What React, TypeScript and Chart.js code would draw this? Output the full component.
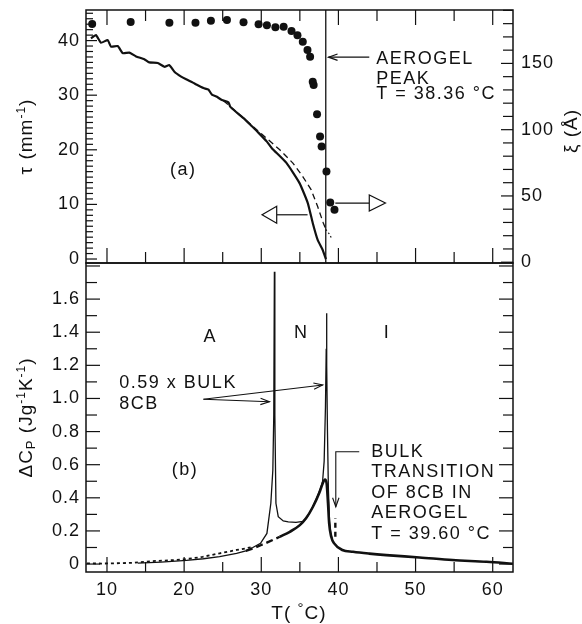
import React, { useEffect, useRef } from 'react';
import { Chart, registerables } from 'chart.js';

Chart.register(...registerables);

const FONT = '"Liberation Sans", Arial, Helvetica, sans-serif';
const INK = '#111';

// ---------- axis ranges ----------
const T_MIN = 7.28;
const T_MAX = 62.63;
const TAU_MIN = -0.73;
const TAU_MAX = 45.6;
const XI_MIN = -0.6;
const XI_MAX = 190.3;
const CP_MIN = -0.048;
const CP_MAX = 1.818;

// ---------- tick labels ----------
const xTickLabels = [10, 20, 30, 40, 50, 60];
const tauTickLabels = [0, 10, 20, 30, 40];
const xiTickLabels = [0, 50, 100, 150];
const cpTickLabels = [0, 0.2, 0.4, 0.6, 0.8, 1.0, 1.2, 1.4, 1.6];

// ---------- tick mark positions ----------
const xMarks = [10, 15, 20, 25, 30, 35, 40, 45, 50, 55, 60];
const tauMarks = Array.from({ length: 46 }, (_, i) => i);
const xiMarks = Array.from({ length: 20 }, (_, i) => i * 10);
const cpMarks = Array.from({ length: 19 }, (_, i) => i / 10);

// ---------- panel (a): turbidity tau (mm^-1) ----------
const tauT = [7.92, 8.57, 9.22, 10.09, 10.52, 11.39, 12.04, 12.9, 13.77, 14.84, 15.49, 16.58, 17.44, 18.09, 18.74, 19.61, 20.26, 21.13, 21.65, 22.51, 23.16, 23.6, 24.25, 24.9, 25.75, 25.97, 26.84, 27.7, 28.79, 29.65, 30.73, 31.37, 33.26, 34.96, 36.03, 36.67, 37.31, 37.95, 38.2, 38.38];
const tauV = [40.4, 41.0, 39.6, 40.1, 38.9, 39.0, 37.7, 37.8, 37.1, 36.6, 36.0, 35.9, 35.2, 35.5, 34.3, 33.4, 32.9, 32.3, 31.9, 31.3, 31.0, 30.1, 29.7, 29.1, 28.7, 27.9, 26.8, 25.8, 24.3, 23.1, 21.5, 20.3, 17.6, 13.9, 10.25, 6.6, 3.5, 1.7, 0.7, 0.0];

// fit (dashed) and its extrapolation (dotted)
const tauFitT = [25.1, 29.8, 32.4, 34.1, 35.38, 36.46, 37.31, 38.04, 38.38];
const tauFitV = [29.0, 23.2, 20.0, 17.56, 15.1, 12.7, 9.6, 6.6, 5.4];
const tauExtT = [38.38, 38.8, 39.2];
const tauExtV = [5.4, 4.6, 3.6];

// correlation length xi (Angstrom), filled circles
const xiT = [8.08, 13.07, 18.09, 21.47, 23.47, 25.55, 27.7, 29.65, 30.73, 31.83, 32.9, 33.92, 34.69, 35.38, 35.99, 36.33, 36.67, 36.79, 37.23, 37.62, 37.82, 38.45, 38.94, 39.49];
const xiV = [179.7, 181.2, 180.7, 180.7, 182.2, 182.7, 181.0, 179.5, 178.7, 177.2, 177.7, 174.5, 171.2, 166.4, 160.1, 155.1, 136.2, 133.8, 111.7, 94.8, 87.3, 68.4, 45.1, 39.6];

const aerogelPeakT = 38.36;

// ---------- panel (b): excess heat capacity ----------
// 0.59 x bulk 8CB (thin line)
const bulkT = [14.0, 17.0, 20.3, 22.5, 24.6, 26.8, 28.0, 28.9, 29.9, 30.73, 31.24, 31.5, 31.62, 31.7, 31.76, 31.9, 32.2, 32.85, 33.5, 34.5, 35.4, 35.9, 36.5, 37.2, 37.7, 37.95, 38.15, 38.32, 38.42, 38.46, 38.5, 38.58, 38.7, 38.85, 39.0, 39.2];
const bulkCp = [0.006, 0.012, 0.022, 0.032, 0.045, 0.064, 0.08, 0.1, 0.125, 0.185, 0.367, 0.568, 0.9, 1.765, 0.9, 0.367, 0.286, 0.26, 0.255, 0.252, 0.258, 0.28, 0.33, 0.4, 0.46, 0.5, 0.62, 0.95, 1.3, 1.514, 1.2, 0.8, 0.45, 0.26, 0.19, 0.15];

// 8CB in aerogel (thick line)
const aeroT = [32.4, 33.7, 35.0, 35.8, 36.7, 37.5, 37.96, 38.26, 38.47, 38.65, 38.8, 39.07, 39.45, 40.5, 41.9, 44.0, 46.2, 50.5, 54.8, 59.2, 62.6];
const aeroCp = [0.165, 0.195, 0.235, 0.276, 0.346, 0.427, 0.487, 0.511, 0.487, 0.367, 0.246, 0.165, 0.125, 0.085, 0.074, 0.063, 0.054, 0.04, 0.024, 0.014, 0.002];

// 8CB in aerogel, lower-T part (heavy dashes)
const aeroDashT = [28.0, 29.0, 30.0, 31.0, 32.4];
const aeroDashCp = [0.08, 0.095, 0.115, 0.135, 0.165];

// 8CB in aerogel, sparse data points at low T (dotted)
const aeroDotT = [7.4, 9.5, 11.6, 13.5, 15.9, 18.0, 19.8, 21.0, 22.4, 23.5, 24.6, 25.7, 26.8, 27.9, 28.9];
const aeroDotCp = [0.004, 0.003, 0.005, 0.008, 0.018, 0.022, 0.028, 0.034, 0.044, 0.054, 0.065, 0.074, 0.085, 0.094, 0.104];

// bulk transition marker at 39.60 C
const bulkTransT = [39.6, 39.6];
const bulkTransCp = [0.165, 0.276];

// ---------- helpers ----------
type Pt = { x: number; y: number };
const pts = (xs: number[], ys: number[]): Pt[] => xs.map((x, i) => ({ x, y: ys[i] }));

function seg(ctx: CanvasRenderingContext2D, x1: number, y1: number, x2: number, y2: number) {
  ctx.beginPath();
  ctx.moveTo(x1, y1);
  ctx.lineTo(x2, y2);
  ctx.stroke();
}

function text(ctx: CanvasRenderingContext2D, s: string, x: number, y: number, align: CanvasTextAlign = 'left', size = 18) {
  ctx.font = `${size}px ${FONT}`;
  ctx.textAlign = align;
  ctx.textBaseline = 'middle';
  ctx.fillText(s, x, y);
}

type Part = { t: string; size: number; dy: number };
function rich(ctx: CanvasRenderingContext2D, parts: Part[], x: number, y: number, rot = 0) {
  ctx.save();
  ctx.translate(x, y);
  ctx.rotate(rot);
  ctx.textAlign = 'left';
  ctx.textBaseline = 'alphabetic';
  let total = 0;
  const widths = parts.map((p) => {
    ctx.font = `${p.size}px ${FONT}`;
    const w = ctx.measureText(p.t).width;
    total += w;
    return w;
  });
  let cx = -total / 2;
  parts.forEach((p, i) => {
    ctx.font = `${p.size}px ${FONT}`;
    ctx.fillText(p.t, cx, p.dy);
    cx += widths[i];
  });
  ctx.restore();
}

function vHead(ctx: CanvasRenderingContext2D, tx: number, ty: number, fromX: number, fromY: number, len = 9, half = 3.2) {
  const ang = Math.atan2(ty - fromY, tx - fromX);
  const bx = tx - len * Math.cos(ang);
  const by = ty - len * Math.sin(ang);
  const nx = -Math.sin(ang) * half;
  const ny = Math.cos(ang) * half;
  ctx.beginPath();
  ctx.moveTo(bx + nx, by + ny);
  ctx.lineTo(tx, ty);
  ctx.lineTo(bx - nx, by - ny);
  ctx.stroke();
}

function openTri(ctx: CanvasRenderingContext2D, tipX: number, baseX: number, y: number, half: number) {
  ctx.beginPath();
  ctx.moveTo(tipX, y);
  ctx.lineTo(baseX, y - half);
  ctx.lineTo(baseX, y + half);
  ctx.closePath();
  ctx.fillStyle = '#fff';
  ctx.fill();
  ctx.stroke();
  ctx.fillStyle = INK;
}

const tickFont = { family: FONT, size: 18 };

function fixY(width: number) {
  return (s: any) => {
    s.width = width;
    s.paddingTop = 0;
    s.paddingBottom = 0;
  };
}
function fixX(height: number) {
  return (s: any) => {
    s.height = height;
    s.paddingLeft = 0;
    s.paddingRight = 0;
  };
}

// ---------- panel (a) ----------
const topDecor = {
  id: 'topDecor',
  beforeDraw(chart: any) {
    chart.ctx.letterSpacing = '1px';
  },
  afterDraw(chart: any) {
    const { ctx, chartArea: a, scales } = chart;
    const x = scales.x;
    const y = scales.y;
    const y2 = scales.y2;
    const X = (v: number) => x.getPixelForValue(v);
    const Y = (v: number) => y.getPixelForValue(v);
    ctx.save();
    ctx.strokeStyle = INK;
    ctx.fillStyle = INK;
    ctx.lineWidth = 1.5;
    ctx.strokeRect(a.left, a.top, a.right - a.left, a.bottom - a.top);
    ctx.lineWidth = 1.2;
    xMarks.forEach((v) => {
      const px = X(v);
      const L = v % 10 === 0 ? 15 : 11;
      seg(ctx, px, a.top, px, a.top + L);
      seg(ctx, px, a.bottom, px, a.bottom - L);
    });
    tauMarks.forEach((v) => {
      const py = Y(v);
      const L = v % 10 === 0 ? 11 : 7;
      seg(ctx, a.left, py, a.left + L, py);
    });
    xiMarks.forEach((v) => {
      const py = y2.getPixelForValue(v);
      const L = v % 50 === 0 ? 12 : 10;
      seg(ctx, a.right, py, a.right - L, py);
    });

    ctx.letterSpacing = '1.5px';
    text(ctx, '(a)', X(19.9), Y(16.3), 'center');

    // arrows pointing to the axes
    ctx.lineWidth = 1.2;
    const yl = Y(8.1);
    seg(ctx, X(32.0), yl, X(36.0), yl);
    openTri(ctx, X(30.1), X(32.0), yl, 8.5);
    const yr = Y(10.25);
    seg(ctx, X(39.6), yr, X(44.0), yr);
    openTri(ctx, X(46.1), X(44.0), yr, 8);

    // aerogel peak annotation
    const ya = Y(36.96);
    seg(ctx, X(44.0), ya, X(38.72), ya);
    vHead(ctx, X(38.72), ya, X(44.0), ya);
    const tx = X(44.9);
    text(ctx, 'AEROGEL', tx, Y(36.7));
    text(ctx, 'PEAK', tx, Y(36.7) + 20);
    text(ctx, 'T = 38.36 \u00B0C', tx, Y(36.7) + 35);

    // axis titles
    ctx.letterSpacing = '1px';
    rich(ctx, [
      { t: '\u03C4 (mm', size: 19, dy: 0 },
      { t: '-1', size: 12, dy: -7 },
      { t: ')', size: 19, dy: 0 },
    ], 31.5, (a.top + a.bottom) / 2, -Math.PI / 2);
    rich(ctx, [
      { t: '\u03BE (\u00C5)', size: 19, dy: 0 },
    ], 577, 131, -Math.PI / 2);
    ctx.restore();
  },
};

function topConfig(): any {
  return {
    type: 'scatter',
    data: {
      datasets: [
        { data: pts(tauT, tauV), yAxisID: 'y', showLine: true, borderColor: INK, borderWidth: 2.2, pointRadius: 0, tension: 0.15 },
        { data: pts(tauFitT, tauFitV), yAxisID: 'y', showLine: true, borderColor: INK, borderWidth: 1.3, borderDash: [6, 4], pointRadius: 0 },
        { data: pts(tauExtT, tauExtV), yAxisID: 'y', showLine: true, borderColor: INK, borderWidth: 1.2, borderDash: [1.5, 2.5], pointRadius: 0 },
        { data: pts([aerogelPeakT, aerogelPeakT], [TAU_MIN, TAU_MAX]), yAxisID: 'y', showLine: true, borderColor: INK, borderWidth: 1.3, pointRadius: 0 },
        { data: pts(xiT, xiV), yAxisID: 'y2', showLine: false, pointRadius: 4, pointBackgroundColor: INK, pointBorderWidth: 0 },
      ],
    },
    options: {
      animation: false,
      responsive: false,
      maintainAspectRatio: false,
      layout: { padding: { left: 0, right: 0, top: 10, bottom: 0 } },
      plugins: { legend: { display: false }, tooltip: { enabled: false } },
      scales: {
        x: {
          type: 'linear', position: 'bottom', min: T_MIN, max: T_MAX,
          grid: { display: false, drawTicks: false }, border: { display: false },
          ticks: { display: false },
          afterFit: fixX(27),
        },
        y: {
          type: 'linear', position: 'left', min: TAU_MIN, max: TAU_MAX,
          grid: { display: false, drawTicks: false }, border: { display: false },
          ticks: { font: tickFont, color: INK, padding: 6, autoSkip: false, callback: (v: number) => String(v) },
          afterBuildTicks: (s: any) => { s.ticks = tauTickLabels.map((v) => ({ value: v })); },
          afterFit: fixY(86),
        },
        y2: {
          type: 'linear', position: 'right', min: XI_MIN, max: XI_MAX,
          grid: { display: false, drawTicks: false }, border: { display: false },
          ticks: { font: tickFont, color: INK, padding: 8, autoSkip: false, callback: (v: number) => String(v) },
          afterBuildTicks: (s: any) => { s.ticks = xiTickLabels.map((v) => ({ value: v })); },
          afterFit: fixY(69),
        },
      },
    },
    plugins: [topDecor],
  };
}

// ---------- panel (b) ----------
const botDecor = {
  id: 'botDecor',
  beforeDraw(chart: any) {
    chart.ctx.letterSpacing = '1px';
  },
  afterDraw(chart: any) {
    const { ctx, chartArea: a, scales } = chart;
    const x = scales.x;
    const y = scales.y;
    const X = (v: number) => x.getPixelForValue(v);
    const Y = (v: number) => y.getPixelForValue(v);
    ctx.save();
    ctx.strokeStyle = INK;
    ctx.fillStyle = INK;
    ctx.lineWidth = 1.5;
    ctx.strokeRect(a.left, a.top, a.right - a.left, a.bottom - a.top);
    ctx.lineWidth = 1.2;
    xMarks.forEach((v) => {
      const px = X(v);
      const L = v % 10 === 0 ? 15 : 10;
      seg(ctx, px, a.bottom, px, a.bottom - L);
    });
    cpMarks.forEach((v, i) => {
      const py = Y(v);
      const major = i % 2 === 0;
      seg(ctx, a.left, py, a.left + (major ? 14 : 11), py);
      seg(ctx, a.right, py, a.right - (major ? 14 : 10), py);
    });

    ctx.letterSpacing = '1.5px';
    text(ctx, 'A', X(23.4), Y(1.373), 'center');
    text(ctx, 'N', X(35.18), Y(1.393), 'center');
    text(ctx, 'I', X(46.3), Y(1.393), 'center');
    text(ctx, '(b)', X(20.1), Y(0.568), 'center');

    text(ctx, '0.59 x BULK', X(11.6), Y(1.091));
    text(ctx, '8CB', X(11.6), Y(0.968));
    ctx.lineWidth = 1.1;
    const ox = X(22.5), oy = Y(0.995);
    const p1x = X(31.06), p1y = Y(0.98);
    const p2x = X(37.96), p2y = Y(1.081);
    seg(ctx, ox, oy, p1x, p1y);
    vHead(ctx, p1x, p1y, ox, oy);
    seg(ctx, ox, oy, p2x, p2y);
    vHead(ctx, p2x, p2y, ox, oy);

    const lx = X(44.25);
    ['BULK', 'TRANSITION', 'OF 8CB IN', 'AEROGEL', 'T = 39.60 \u00B0C'].forEach((s, i) => {
      text(ctx, s, lx, Y(0.676) + i * 20.4);
    });
    const bx = X(39.66);
    const by = Y(0.678);
    const bEnd = Y(0.346);
    ctx.beginPath();
    ctx.moveTo(X(42.7), by);
    ctx.lineTo(bx, by);
    ctx.lineTo(bx, bEnd);
    ctx.stroke();
    vHead(ctx, bx, bEnd, bx, by);

    // axis titles
    ctx.letterSpacing = '1px';
    rich(ctx, [
      { t: 'T( ', size: 19, dy: 0 },
      { t: '\u00B0', size: 15, dy: -6 },
      { t: 'C)', size: 19, dy: 0 },
    ], 299, a.bottom + 47);
    rich(ctx, [
      { t: '\u0394C', size: 19, dy: 0 },
      { t: 'P', size: 13, dy: 3 },
      { t: ' (Jg', size: 19, dy: 0 },
      { t: '-1', size: 12, dy: -7 },
      { t: 'K', size: 19, dy: 0 },
      { t: '-1', size: 12, dy: -7 },
      { t: ')', size: 19, dy: 0 },
    ], 32, (a.top + a.bottom) / 2, -Math.PI / 2);
    ctx.restore();
  },
};

function botConfig(): any {
  return {
    type: 'scatter',
    data: {
      datasets: [
        { data: pts(aeroDotT, aeroDotCp), showLine: true, borderColor: INK, borderWidth: 1.8, borderDash: [3, 3], pointRadius: 0 },
        { data: pts(bulkT, bulkCp), showLine: true, borderColor: INK, borderWidth: 1.3, pointRadius: 0, tension: 0 },
        { data: pts(aeroDashT, aeroDashCp), showLine: true, borderColor: INK, borderWidth: 2.4, borderDash: [7, 4], pointRadius: 0 },
        { data: pts(aeroT, aeroCp), showLine: true, borderColor: INK, borderWidth: 2.6, pointRadius: 0, cubicInterpolationMode: 'monotone' },
        { data: pts(bulkTransT, bulkTransCp), showLine: true, borderColor: INK, borderWidth: 2.4, borderDash: [5, 4], pointRadius: 0 },
      ],
    },
    options: {
      animation: false,
      responsive: false,
      maintainAspectRatio: false,
      layout: { padding: { left: 0, right: 69, top: 23, bottom: 0 } },
      plugins: { legend: { display: false }, tooltip: { enabled: false } },
      scales: {
        x: {
          type: 'linear', position: 'bottom', min: T_MIN, max: T_MAX,
          grid: { display: false, drawTicks: false }, border: { display: false },
          ticks: { font: tickFont, color: INK, padding: 7, autoSkip: false, maxRotation: 0, callback: (v: number) => String(v) },
          afterBuildTicks: (s: any) => { s.ticks = xTickLabels.map((v) => ({ value: v })); },
          afterFit: fixX(52),
        },
        y: {
          type: 'linear', position: 'left', min: CP_MIN, max: CP_MAX,
          grid: { display: false, drawTicks: false }, border: { display: false },
          ticks: { font: tickFont, color: INK, padding: 6, autoSkip: false, callback: (v: number) => (v === 0 ? '0' : v.toFixed(1)) },
          afterBuildTicks: (s: any) => { s.ticks = cpTickLabels.map((v) => ({ value: v })); },
          afterFit: fixY(86),
        },
      },
    },
    plugins: [botDecor],
  };
}

export default function App() {
  const topRef = useRef<HTMLCanvasElement>(null);
  const botRef = useRef<HTMLCanvasElement>(null);
  useEffect(() => {
    const top = new Chart(topRef.current as HTMLCanvasElement, topConfig());
    const bot = new Chart(botRef.current as HTMLCanvasElement, botConfig());
    return () => {
      top.destroy();
      bot.destroy();
    };
  }, []);
  return (
    <div style={{ position: 'absolute', left: 0, top: 0, width: 582, height: 624, background: '#fff' }}>
      <canvas ref={topRef} width={582} height={290} style={{ position: 'absolute', left: 0, top: 0 }} />
      <canvas ref={botRef} width={582} height={384} style={{ position: 'absolute', left: 0, top: 240 }} />
    </div>
  );
}
